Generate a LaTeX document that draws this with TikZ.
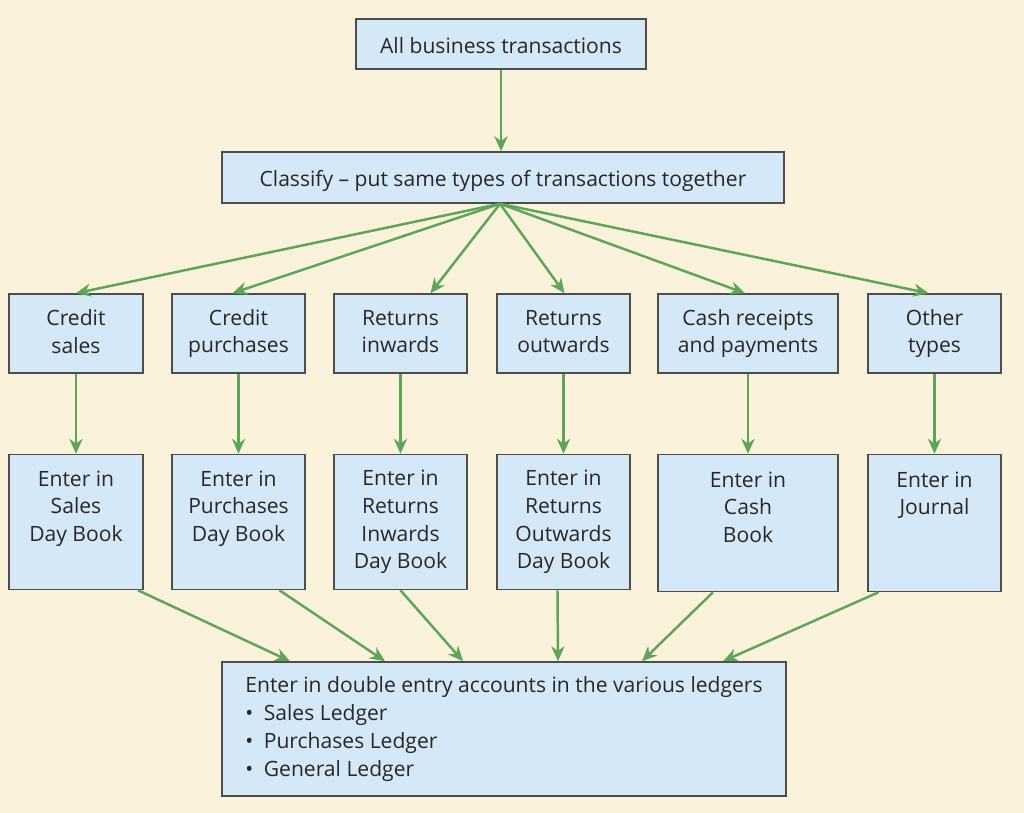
\documentclass[tikz,border=0pt]{standalone}
\usepackage{fontspec}
\setmainfont{Open Sans}
\usetikzlibrary{arrows.meta, calc}
\definecolor{bgCream}{RGB}{251,242,220}
\definecolor{boxBlue}{RGB}{212,232,248}
\definecolor{boxLine}{RGB}{78,78,78}
\definecolor{txtGrey}{RGB}{40,40,40}
\definecolor{flowG}{RGB}{92,166,86}
\newcommand{\boxstrut}{\rule[-2.2pt]{0pt}{15.4pt}}
\tikzset{
  box/.style={draw=boxLine, fill=boxBlue, line width=0.9pt, inner sep=0pt,
    align=center, text=txtGrey, font=\fontsize{12}{15.8}\selectfont,
    execute at begin node=\boxstrut, execute at end node=\boxstrut},
  kind/.style={box, minimum width=2.67cm, minimum height=1.58cm},
  book/.style={box, minimum width=2.67cm, minimum height=2.7cm},
  flow/.style={-{Stealth[length=8.5pt, width=7.5pt]}, flowG, line width=1.4pt}
}

\begin{document}
\begin{tikzpicture}[x=0.02cm, y=-0.02cm]
% page background
\fill[bgCream] (0,0) rectangle (1024,813);
\useasboundingbox (0,0) rectangle (1024,813);
% top of the flow
\node[box, minimum width=5.8cm, minimum height=1cm] (all) at (501,44) {All business transactions};
\node[box, minimum width=11.24cm, minimum height=1.02cm] (classify) at (503,177.5)
  {Classify -- put same types of transactions together};
\coordinate (hub) at ($(classify.south)+(-3,0)$);
% types of transaction
\node[kind] (cs) at (76,333.5) {Credit\\sales};
\node[kind] (cp) at (238.5,333.5) {Credit\\purchases};
\node[kind] (ri) at (400.5,333.5) {Returns\\inwards};
\node[kind] (ro) at (563.5,333.5) {Returns\\outwards};
\node[kind, minimum width=3.6cm] (cr) at (748,333.5) {Cash receipts\\and payments};
\node[kind] (ot) at (934.5,333.5) {Other\\types};
% books of original entry
\node[book] (sdb) at (76,522) {Enter in\\Sales\\Day Book\\~};
\node[book] (pdb) at (238.5,522) {Enter in\\Purchases\\Day Book\\~};
\node[book] (rib) at (400.5,522) {Enter in\\Returns\\Inwards\\Day Book};
\node[book] (rob) at (563.5,522) {Enter in\\Returns\\Outwards\\Day Book};
\node[book, minimum width=3.6cm, minimum height=2.74cm] (cb) at (748,523) {Enter in\\Cash\\Book\\~};
\node[book, minimum height=2.74cm] (jn) at (934.5,523) {Enter in\\Journal\\~\\~};
% ledgers
\node[box, align=left, minimum width=11.28cm, minimum height=2.68cm] (ledgers) at (504,729)
  {Enter in double entry accounts in the various ledgers\\
   {\large•}\hspace{6pt}Sales Ledger\\
   {\large•}\hspace{6pt}Purchases Ledger\\
   {\large•}\hspace{6pt}General Ledger};
% arrows
\draw[flow] (all.south) -- (all.south |- classify.north);
\foreach \t/\dx in {cs/0, cp/-6, ri/30, ro/1, cr/-3, ot/-6}
  \draw[flow] (hub) -- ($(\t.north)+(\dx,0)$);
\foreach \a/\b in {cs/sdb, cp/pdb, ri/rib, ro/rob, cr/cb, ot/jn}
  \draw[flow] (\a) -- (\b);
\foreach \b/\s/\e in {sdb/62/-214, pdb/41/-119, rib/0/-41, rob/-6/54, cb/-35/138, jn/-56/219}
  \draw[flow] ($(\b.south)+(\s,0)$) -- ($(ledgers.north)+(\e,0)$);
\end{tikzpicture}
\end{document}
